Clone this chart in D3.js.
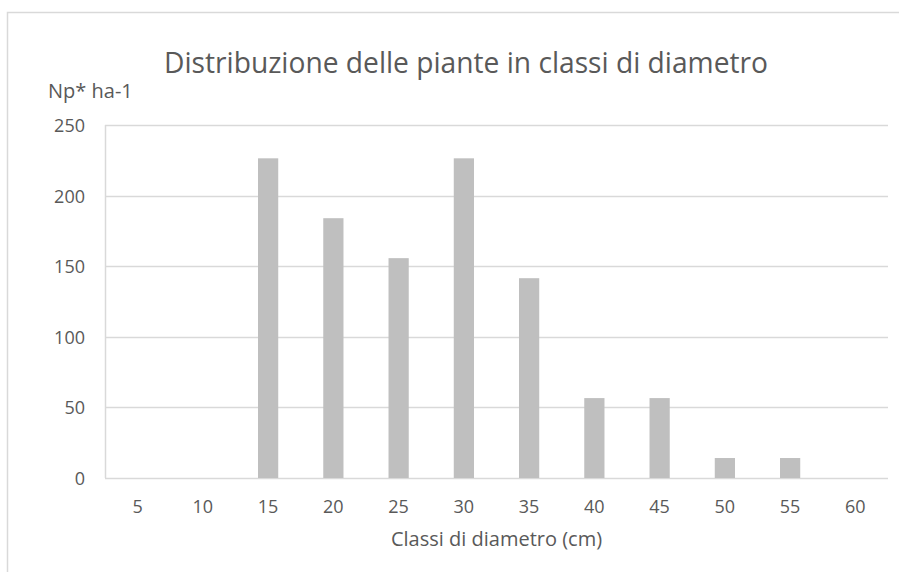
<!DOCTYPE html>
<html>
<head>
<meta charset="utf-8">
<script src="https://cdn.jsdelivr.net/npm/d3@7"></script>
<style>
  body { margin: 0; background: #fff; }
  text { font-family: "Open Sans", sans-serif; fill: #595959; }
</style>
</head>
<body>
<div id="chart"></div>
<script>
// data
var classes = ["5", "10", "15", "20", "25", "30", "35", "40", "45", "50", "55", "60"];
var plants = [0, 0, 226.4, 184, 155.7, 226.4, 141.5, 56.6, 56.6, 14.15, 14.15, 0];
var yTicks = [0, 50, 100, 150, 200, 250];

var svgWidth = 899;
var svgHeight = 572;

var margin = {
  top: 125,
  right: 11,
  left: 105,
  bottom: 94
};

var width = svgWidth - margin.left - margin.right;
var height = svgHeight - margin.top - margin.bottom;

var svg = d3.select("#chart")
  .append("svg")
  .attr("width", svgWidth)
  .attr("height", svgHeight);

// outer chart frame (cut off on the right and bottom)
svg.append("rect")
  .attr("x", 7.5)
  .attr("y", 12.5)
  .attr("width", 1000)
  .attr("height", 1000)
  .attr("fill", "none")
  .attr("stroke", "#d9d9d9")
  .attr("stroke-width", 1.5);

var chartGroup = svg.append("g")
  .attr("transform", `translate(${margin.left}, ${margin.top})`);

var x = d3.scaleBand()
  .domain(classes)
  .range([0, width])
  .paddingInner(0.69)
  .paddingOuter(0.345);

var y = d3.scaleLinear()
  .domain([0, 250])
  .range([height, 0]);

// gridlines
chartGroup.append("g")
  .selectAll("line")
  .data(yTicks)
  .enter()
  .append("line")
  .attr("x1", 0)
  .attr("x2", width)
  .attr("y1", d => Math.round(y(d)) + 0.5)
  .attr("y2", d => Math.round(y(d)) + 0.5)
  .attr("stroke", "#d9d9d9")
  .attr("stroke-width", 1.5);

// left axis line
chartGroup.append("line")
  .attr("x1", 0.5)
  .attr("x2", 0.5)
  .attr("y1", 0)
  .attr("y2", height)
  .attr("stroke", "#d9d9d9")
  .attr("stroke-width", 1.5);

// bars
chartGroup.selectAll(".bar")
  .data(plants)
  .enter()
  .append("rect")
  .attr("class", "bar")
  .attr("x", (d, i) => x(classes[i]))
  .attr("width", x.bandwidth())
  .attr("y", d => y(d))
  .attr("height", d => height - y(d))
  .attr("fill", "#bfbfbf");

// axes
var yAxis = chartGroup.append("g")
  .call(d3.axisLeft(y).tickValues(yTicks).tickSize(0).tickPadding(20));
yAxis.select(".domain").remove();
yAxis.selectAll("text")
  .attr("font-size", "18px")
  .attr("fill", "#595959")
  .attr("dy", "0.36em");

var xAxis = chartGroup.append("g")
  .attr("transform", `translate(0, ${height})`)
  .call(d3.axisBottom(x).tickSize(0).tickPadding(22));
xAxis.select(".domain").remove();
xAxis.selectAll("text")
  .attr("font-size", "18px")
  .attr("fill", "#595959");

// title
svg.append("text")
  .attr("x", 466)
  .attr("y", 73)
  .attr("text-anchor", "middle")
  .attr("font-size", "29px")
  .attr("textLength", 604)
  .attr("lengthAdjust", "spacingAndGlyphs")
  .text("Distribuzione delle piante in classi di diametro");

// y axis title
svg.append("text")
  .attr("x", 48)
  .attr("y", 98)
  .attr("font-size", "20px")
  .text("Np* ha-1");

// x axis title
chartGroup.append("text")
  .attr("x", width / 2)
  .attr("y", height + 68)
  .attr("text-anchor", "middle")
  .attr("font-size", "20px")
  .text("Classi di diametro (cm)");
</script>
</body>
</html>
